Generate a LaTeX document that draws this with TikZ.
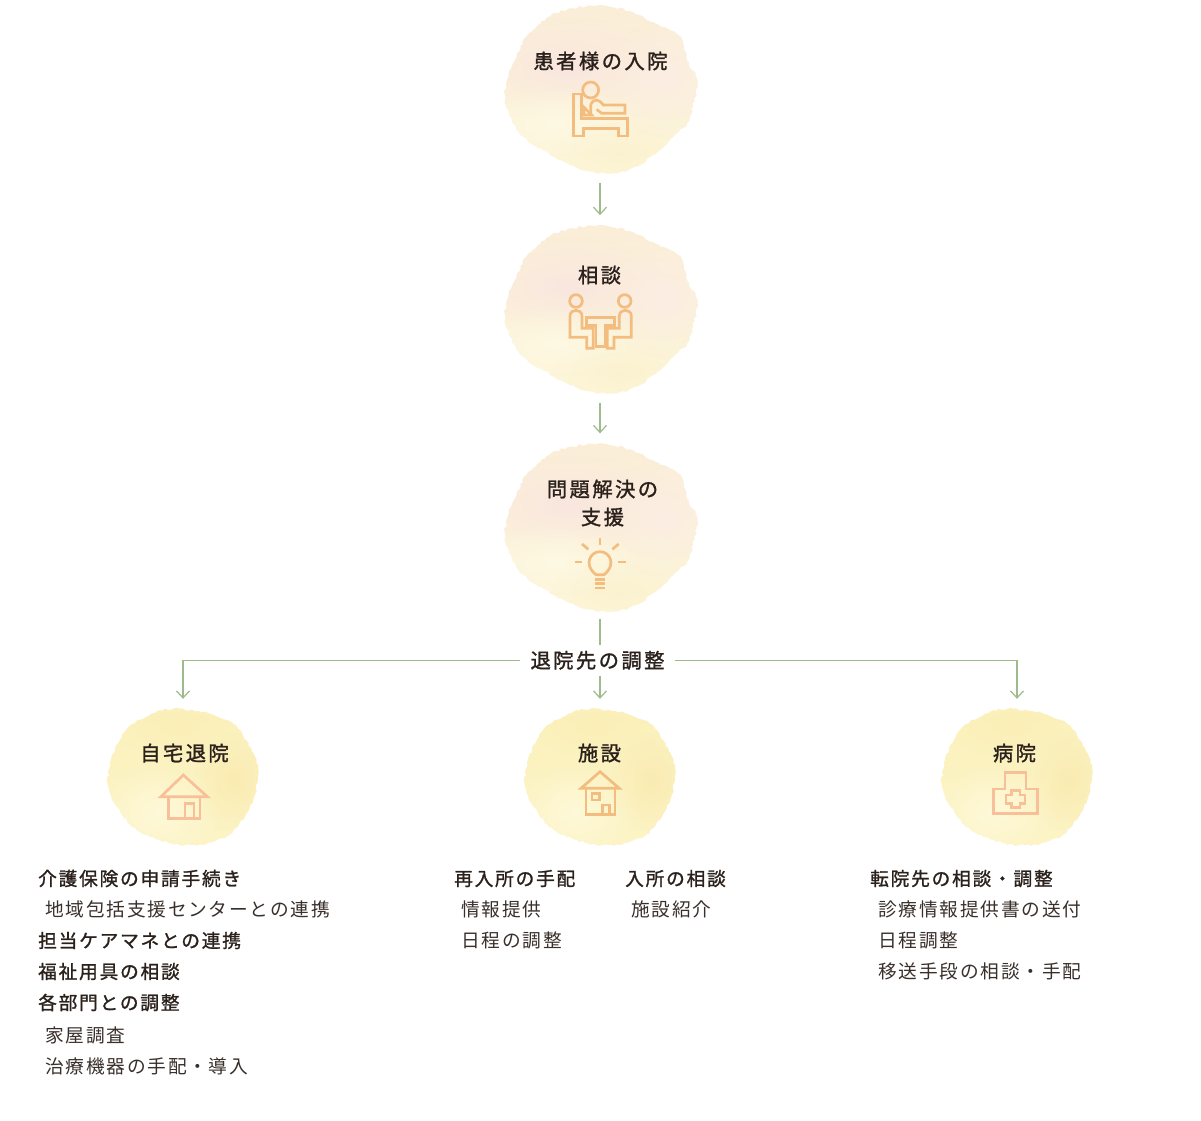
\documentclass[tikz,border=0pt]{standalone}
\usepackage{fontspec}
\setmainfont{Noto Sans CJK JP}
\newfontfamily\titlefont[LetterSpace=12, FakeBold=1.4]{Noto Sans CJK JP}
\newfontfamily\headfont[LetterSpace=9.5, FakeBold=1.2]{Noto Sans CJK JP}
\newfontfamily\listfont[LetterSpace=9.5]{Noto Sans CJK JP}
\usetikzlibrary{arrows.meta, positioning, shapes.geometric, decorations.pathmorphing, fadings}
\definecolor{cgreen}{HTML}{9DBB8B}
\definecolor{cink}{HTML}{2B211C}
\definecolor{ctext}{HTML}{3A302B}
\definecolor{cicon}{HTML}{F3BD80}
\definecolor{chouse}{HTML}{F8C098}
\definecolor{ptop}{HTML}{FBEDD8}
\definecolor{pmid}{HTML}{FAEDE4}
\definecolor{pbot}{HTML}{FDF7D8}
\definecolor{ppink}{HTML}{F9E5E0}
\definecolor{prose}{HTML}{FBEDE4}
\definecolor{ppale}{HTML}{FEF9E4}
\definecolor{psand}{HTML}{FBF1CE}
\definecolor{ytop}{HTML}{FBF1BC}
\definecolor{ybot}{HTML}{FCF4C6}
\definecolor{ypale}{HTML}{FEF9DA}
\definecolor{ydeep}{HTML}{FAEAB0}
\definecolor{ysand}{HTML}{FBEEB4}
\tikzfading[name=softedge, inner color=transparent!0, outer color=transparent!100]
\tikzset{
  rough/.style={decorate, decoration={random steps, segment length=3pt, amplitude=1.1pt}},
  blobnode/.style={ellipse, inner sep=0pt, minimum width=190pt, minimum height=168pt},
  smallblob/.style={ellipse, inner sep=0pt, minimum width=150pt, minimum height=138pt},
  title/.style={font=\titlefont\fontsize{20.3}{28}\selectfont, text=cink, align=center, inner sep=0pt},
  head/.style={font=\headfont\fontsize{18.7}{24}\selectfont, text=cink, anchor=west, inner sep=0pt},
  item/.style={font=\listfont\fontsize{18.7}{24}\selectfont, text=ctext, anchor=west, inner sep=0pt},
  arrow/.style={-{Straight Barb[length=7pt, width=13pt]}, draw=cgreen, line width=1.2pt},
  link/.style={draw=cgreen, line width=1.2pt},
  iconline/.style={draw=#1, line width=2.7pt, line join=miter},
  iconline/.default=cicon,
  soft/.style={path fading=softedge, fill opacity=#1},
  soft/.default=.7,
}
\def\peachshape{plot[smooth cycle] coordinates {(0,-84) (30,-78) (50,-68) (70,-59) (82,-49) (87,-29) (97,-9) (93,17) (87,34) (77,44) (60,61) (37,77) (17,84) (-10,82) (-33,74) (-57,61) (-77,47) (-90,27) (-95,11) (-93,-9) (-85,-29) (-73,-53) (-50,-73) (-27,-81)}}
\def\yellowshape{plot[smooth cycle] coordinates {(-3,-68) (27,-63) (50,-53) (63,-37) (72,-20) (75,-7) (72,17) (63,37) (47,57) (23,67) (-3,68) (-33,60) (-53,47) (-68,27) (-75,7) (-72,-17) (-63,-37) (-50,-53) (-27,-65)}}
\newcommand{\peachwash}[3]{
  \begin{scope}[shift={(#2,#3)}]
    \pgfmathsetseed{7}
    \clip[rough] \peachshape;
    \shade[top color=ptop, middle color=pmid, bottom color=pbot] (-110,-95) rectangle (110,95);
    \fill[ppink, soft=.9] (-30,-22) ellipse [x radius=110, y radius=50];
    \fill[prose, soft=.9] (65,-10) ellipse [x radius=60, y radius=60];
    \fill[ppale, soft=.9] (-45,35) ellipse [x radius=90, y radius=40];
    \fill[psand, soft=.8] (20,65) ellipse [x radius=70, y radius=32];
  \end{scope}
  \node[blobnode] (#1) at (#2,#3) {};
}
\newcommand{\yellowwash}[3]{
  \begin{scope}[shift={(#2,#3)}]
    \pgfmathsetseed{11}
    \clip[rough] \yellowshape;
    \shade[top color=ytop, bottom color=ybot] (-90,-80) rectangle (90,80);
    \fill[ypale, soft=.9] (-25,35) ellipse [x radius=65, y radius=50];
    \fill[ydeep, soft=.9] (52,5) ellipse [x radius=42, y radius=50];
    \fill[ysand, soft=.7] (-5,-50) ellipse [x radius=70, y radius=30];
  \end{scope}
  \node[smallblob] (#1) at (#2,#3) {};
}
\begin{document}
\begin{tikzpicture}[x=1pt, y=-1pt]
  \useasboundingbox (0,0) rectangle (1201,1120);
  \fill[white] (0,0) rectangle (1201,1120);
  \peachwash{nyuin}{600}{89.3}
  \peachwash{sodan}{600}{309.3}
  \peachwash{mondai}{600}{527.5}
  \yellowwash{jitaku}{183}{777}
  \yellowwash{shisetsu}{600}{777}
  \yellowwash{byoin}{1017}{777}

  \node[title] (nyuinlabel) at (600.5,61) {患者様の入院};
  \node[title] (sodanlabel) at (599.5,275) {相談};
  \node[title] (mondailabel) at (602.5,503) {問題解決の\\支援};
  \node[title] (jitakulabel) at (184.5,753) {自宅退院};
  \node[title] (shisetsulabel) at (599.5,753) {施設};
  \node[title] (byoinlabel) at (1014.5,753) {病院};
  \node[title, minimum width=155pt, minimum height=30pt] (chosei) at (597.5,660.3) {退院先の調整};

  % arrows
  \draw[arrow, shorten <=9pt, shorten >=10pt] (nyuin) -- (sodan);
  \draw[arrow, shorten <=9pt, shorten >=10pt] (sodan) -- (mondai);
  \draw[link, shorten <=7pt] (mondai.south) -- (mondai.south |- chosei.north);
  \draw[arrow, shorten >=9pt] (mondai.south |- chosei.south) -- (shisetsu);
  \draw[arrow, shorten >=9pt] (chosei.west) -| (jitaku.north);
  \draw[arrow, shorten >=9pt] (chosei.east) -| (byoin.north);

  % icons
  \begin{scope}[shift={(490,0)}, x=.3333pt, y=-.3333pt, iconline]
    \draw (302,270) circle [radius=24];
    \draw (250,282) -- (250,408) -- (280,408) -- (280,385) -- (385,385) -- (385,408) -- (412,408) -- (412,355) -- (275,355) -- (275,282) -- cycle;
    \draw (282,345) -- (282,322) -- (305,345) -- cycle;
    \draw (302,345) -- (302,315) .. controls (310,295) and (325,295) .. (340,315) -- (405,315) -- (405,340) -- (335,340) -- (320,328);
  \end{scope}
  \begin{scope}[shift={(490,220)}, x=.3333pt, y=-.3333pt, iconline]
    \draw (258,243) circle [radius=19];
    \draw (404,243) circle [radius=19];
    \draw (310,325) -- (276,325) -- (276,288) .. controls (276,265) and (240,265) .. (240,288) -- (240,352) -- (290,352) -- (290,385) -- (310,385) -- cycle;
    \draw (352,325) -- (388,325) -- (388,288) .. controls (388,265) and (424,265) .. (424,288) -- (424,352) -- (372,352) -- (372,385) -- (352,385) -- cycle;
    \draw (290,292) -- (374,292) -- (374,316) -- (346,316) -- (346,380) -- (318,380) -- (318,316) -- (290,316) -- cycle;
  \end{scope}
  \begin{scope}[shift={(490,440)}, x=.3333pt, y=-.3333pt, iconline]
    \draw (318,404) .. controls (280,375) and (300,335) .. (330,335) .. controls (360,335) and (380,375) .. (342,404) -- cycle;
    \foreach \ly in {418,431,444} \draw (314,\ly) -- (346,\ly);
    \draw (330,295) -- (330,316);
    \draw (276,312) -- (295,328);
    \draw (386,312) -- (367,328);
    \draw (254,366) -- (276,366);
    \draw (385,366) -- (407,366);
  \end{scope}
  \begin{scope}[shift={(100,700)}, x=.3333pt, y=-.3333pt, iconline=chouse]
    \draw (183,290) -- (250,225) -- (322,290) -- cycle;
    \draw (205,290) -- (205,356) -- (300,356) -- (300,290);
    \draw (255,356) -- (255,310) -- (282,310) -- (282,356);
  \end{scope}
  \begin{scope}[shift={(520,700)}, x=.3333pt, y=-.3333pt, iconline]
    \draw (183,265) -- (240,215) -- (298,265) -- cycle;
    \draw (198,265) -- (198,344) -- (285,344) -- (285,265);
    \draw (216,280) rectangle (238,300);
    \draw (248,344) -- (248,315) -- (268,315) -- (268,344);
  \end{scope}
  \begin{scope}[shift={(930,700)}, x=.3333pt, y=-.3333pt, iconline=chouse]
    \draw (190,340) -- (190,267) -- (225,267) -- (225,218) -- (288,218) -- (288,267) -- (322,267) -- (322,340) -- cycle;
    \draw (245,272) -- (270,272) -- (270,285) -- (285,285) -- (285,310) -- (270,310) -- (270,323) -- (245,323) -- (245,310) -- (228,310) -- (228,285) -- (245,285) -- cycle;
  \end{scope}

  % lists
  \node[head] (j1) at (38,878.5) {介護保険の申請手続き};
  \node[item] (j2) at (45,909.5) {地域包括支援センターとの連携};
  \node[head] (j3) at (38,940.5) {担当ケアマネとの連携};
  \node[head] (j4) at (38,971.5) {福祉用具の相談};
  \node[head] (j5) at (38,1002.5) {各部門との調整};
  \node[item] (j6) at (45,1035.5) {家屋調査};
  \node[item] (j7) at (45,1066.5) {治療機器の手配・導入};

  \node[head] (s1) at (454,878.5) {再入所の手配};
  \node[item] (s2) at (461,909.5) {情報提供};
  \node[item] (s3) at (461,940.5) {日程の調整};
  \node[head] (s4) at (625,878.5) {入所の相談};
  \node[item] (s5) at (631,909.5) {施設紹介};

  \node[head] (b1) at (870,878.5) {転院先の相談・調整};
  \node[item] (b2) at (878,909.5) {診療情報提供書の送付};
  \node[item] (b3) at (878,940.5) {日程調整};
  \node[item] (b4) at (878,971.5) {移送手段の相談・手配};
\end{tikzpicture}
\end{document}
